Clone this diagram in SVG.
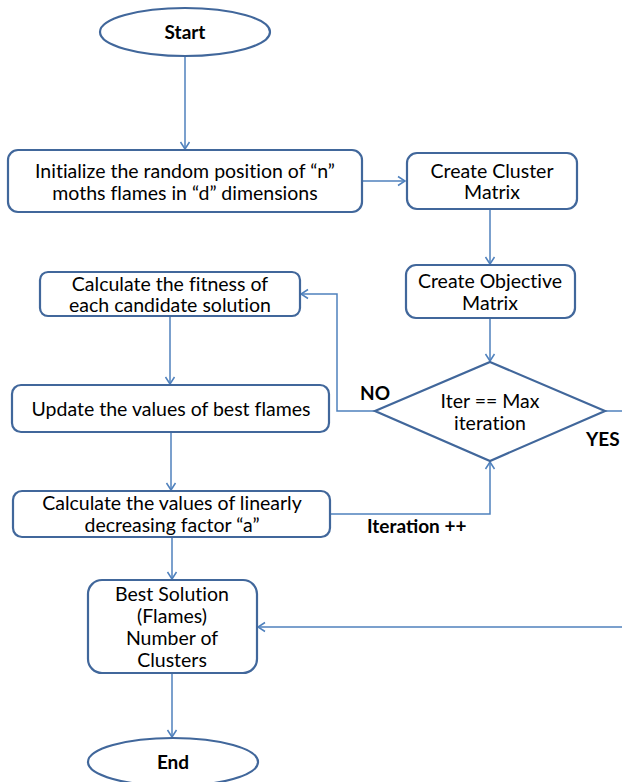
<svg xmlns="http://www.w3.org/2000/svg" width="622" height="782" viewBox="0 0 622 782">
<style>
.box{fill:#fff;stroke:#41679B;stroke-width:2.2}
.t{font-family:Lato,"Liberation Sans",sans-serif;font-size:19.5px;fill:#000;text-anchor:middle;font-variant-ligatures:none}
.b{font-family:Lato,"Liberation Sans",sans-serif;font-size:19px;font-weight:bold;fill:#000}
.c{fill:none;stroke:#4F81BD;stroke-width:1.5}
</style>
<defs>
<marker id="ah" markerWidth="12" markerHeight="12" refX="10" refY="6" orient="auto" markerUnits="userSpaceOnUse">
<polyline points="3,1.5 10,6 3,10.5" fill="none" stroke="#4F81BD" stroke-width="1.5"/>
</marker>
</defs>
<rect width="622" height="782" fill="#fff"/>
<g id="connectors">
<line class="c" x1="185" y1="55" x2="185" y2="149" marker-end="url(#ah)"/>
<line class="c" x1="363" y1="181" x2="405" y2="181" marker-end="url(#ah)"/>
<line class="c" x1="490" y1="210" x2="490" y2="264" marker-end="url(#ah)"/>
<line class="c" x1="490" y1="318" x2="490" y2="361" marker-end="url(#ah)"/>
<polyline class="c" points="375,411 337,411 337,294 301,294" marker-end="url(#ah)"/>
<line class="c" x1="170" y1="316" x2="170" y2="384" marker-end="url(#ah)"/>
<line class="c" x1="171" y1="432" x2="171" y2="490" marker-end="url(#ah)"/>
<polyline class="c" points="331,514 490,514 490,462" marker-end="url(#ah)"/>
<line class="c" x1="605" y1="411" x2="622" y2="411"/>
<line class="c" x1="622" y1="627" x2="258" y2="627" marker-end="url(#ah)"/>
<line class="c" x1="172" y1="537" x2="172" y2="579" marker-end="url(#ah)"/>
<line class="c" x1="172" y1="673" x2="172" y2="737" marker-end="url(#ah)"/>
</g>
<g id="start">
<ellipse class="box" cx="185" cy="32" rx="85" ry="24"/>
<text class="b" x="185" y="39" text-anchor="middle">Start</text>
</g>
<g id="init">
<rect class="box" x="8" y="150" width="354" height="62" rx="10"/>
<text class="t" x="185" y="178">Initialize the random position of “n”</text>
<text class="t" x="185" y="200">moths flames in “d” dimensions</text>
</g>
<g id="cluster">
<rect class="box" x="407" y="153" width="170" height="56" rx="10"/>
<text class="t" x="492" y="178">Create Cluster</text>
<text class="t" x="492" y="199">Matrix</text>
</g>
<g id="objective">
<rect class="box" x="406" y="265" width="169" height="53" rx="10"/>
<text class="t" x="490" y="288">Create Objective</text>
<text class="t" x="490" y="310">Matrix</text>
</g>
<g id="decision">
<polygon class="box" points="490,362 605,411 490,461 375,411"/>
<text class="t" x="490" y="408">Iter == Max</text>
<text class="t" x="490" y="430">iteration</text>
</g>
<g id="fitness">
<rect class="box" x="40" y="272" width="260" height="44" rx="8"/>
<text class="t" x="170" y="291">Calculate the fitness of</text>
<text class="t" x="170" y="312">each candidate solution</text>
</g>
<g id="update">
<rect class="box" x="12" y="385" width="317" height="47" rx="9"/>
<text class="t" x="171" y="416">Update the values of best flames</text>
</g>
<g id="calc">
<rect class="box" x="13" y="491" width="317" height="46" rx="9"/>
<text class="t" x="172" y="510">Calculate the values of linearly</text>
<text class="t" x="172" y="532">decreasing factor “a”</text>
</g>
<g id="best">
<rect class="box" x="88" y="580" width="169" height="93" rx="14"/>
<text class="t" x="172" y="601">Best Solution</text>
<text class="t" x="172" y="623">(Flames)</text>
<text class="t" x="172" y="645">Number of</text>
<text class="t" x="172" y="667">Clusters</text>
</g>
<g id="end">
<ellipse class="box" cx="173" cy="762" rx="85" ry="24"/>
<text class="b" x="173" y="769" text-anchor="middle">End</text>
</g>
<g id="labels">
<text class="b" x="360" y="400">NO</text>
<text class="b" x="586" y="446">YES</text>
<text class="b" x="367" y="533">Iteration ++</text>
</g>
</svg>
